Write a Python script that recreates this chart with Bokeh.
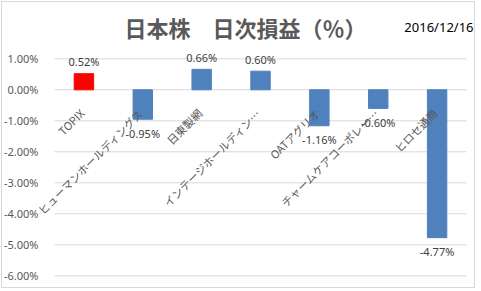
import math
from bokeh.plotting import figure
from bokeh.models import (ColumnDataSource, LabelSet, Label, FixedTicker,
                          PrintfTickFormatter, Range1d)
from bokeh.core.properties import value
from bokeh.embed import file_html
from bokeh.resources import INLINE

categories = ["TOPIX", "ヒューマンホールディングス", "日東製網", "インテージホールディン…",
              "OATアグリオ", "チャームケアコーポレー…", "ヒロセ通商"]
values = [0.52, -0.95, 0.66, 0.60, -1.16, -0.60, -4.77]
colors = ["#ff0000", "#4f81bd", "#4f81bd", "#4f81bd", "#4f81bd", "#4f81bd", "#4f81bd"]
y_ticks = [1, 0, -1, -2, -3, -4, -5, -6]
title_text = "日本株　日次損益（％）"
date_text = "2016/12/16"

JP = "Noto Sans CJK JP"
LAT = "Noto Sans"

n = len(categories)
xs = list(range(n))
src = ColumnDataSource(dict(
    x=xs, v=values, c=colors,
    lbl=["%.2f%%" % v for v in values],
    off=[12 if v >= 0 else -14 for v in values],
    cat=categories, zero=[0] * n,
))
grid_src = ColumnDataSource(dict(y=y_ticks, x0=[-0.5] * len(y_ticks),
                                 x1=[n - 0.5] * len(y_ticks)))

p = figure(width=474, height=287, output_backend="svg", toolbar_location=None,
           x_range=Range1d(-1.3834, 6.6696), y_range=Range1d(-6.442, 2.816),
           min_border_left=0, min_border_right=0, min_border_top=0,
           min_border_bottom=0,
           styles={"border": "1px solid #d9d9d9", "margin-left": "1px",
                   "margin-top": "1px"})
p.outline_line_color = None
p.background_fill_color = "white"
p.border_fill_color = "white"

p.xaxis.visible = False
p.xgrid.visible = False
p.ygrid.visible = False
yax = p.yaxis[0]
yax.fixed_location = -0.5
yax.ticker = FixedTicker(ticks=y_ticks)
yax.formatter = PrintfTickFormatter(format="%.2f%%")
yax.axis_line_color = None
yax.major_tick_line_color = None
yax.minor_tick_line_color = None
yax.major_label_standoff = 10
yax.major_label_text_font = LAT
yax.major_label_text_font_size = "11px"
yax.major_label_text_color = "#595959"

p.segment(x0="x0", x1="x1", y0="y", y1="y", source=grid_src,
          line_color="#d9d9d9", line_width=1)

p.vbar(x="x", top="v", bottom=0, width=0.33, fill_color="c", line_color="c",
       source=src)

p.add_layout(LabelSet(x="x", y="v", text="lbl", y_offset="off", source=src,
                      text_align="center", text_baseline="middle",
                      text_font=value(LAT), text_font_size=value("11px"),
                      text_color=value("#404040")))

p.add_layout(LabelSet(x="x", y="zero", text="cat", source=src, angle=math.pi / 4,
                      x_offset=-2, y_offset=-21,
                      text_align="right", text_baseline="middle",
                      text_font=value(JP), text_font_size=value("11px"),
                      text_color=value("#595959")))

p.add_layout(Label(x=2.746, y=2.01, text=title_text, text_align="center",
                   text_baseline="middle", text_font=JP, text_font_size="22px",
                   text_font_style="bold", text_color="#595959"))
p.add_layout(Label(x=6.619, y=2.01, text=date_text, text_align="right",
                   text_baseline="middle", text_font=LAT, text_font_size="13px",
                   text_color="#000000"))

open("out.html", "w").write(file_html(p, INLINE))
